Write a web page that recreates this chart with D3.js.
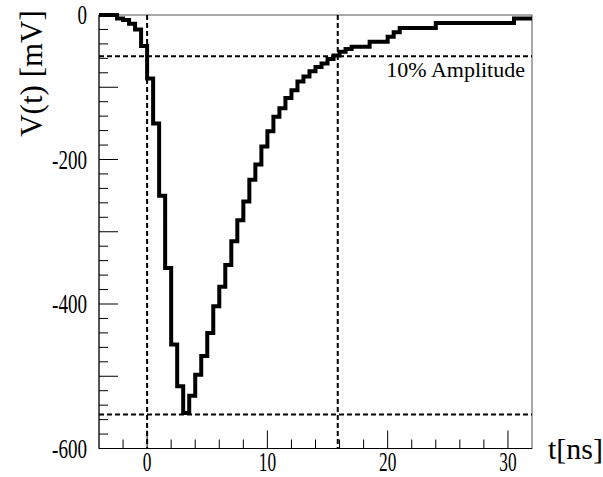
<!DOCTYPE html>
<html>
<head>
<meta charset="utf-8">
<script src="https://cdn.jsdelivr.net/npm/d3@7"></script>
<style>
  body { margin: 0; background: #fff; }
  svg text { font-family: "Liberation Serif", "Times New Roman", serif; fill: #000; }
</style>
</head>
<body>
<svg id="chart"></svg>
<script>
// bin width of the digitised pulse (ns), first bin starts at -4 ns
const binStart = -4;
const binWidth = 0.5;

// V(t) per 0.5 ns bin, in mV
const voltage = [
    0, 0, 0, -5, -7, -12, -20, -43,
    -88, -150, -250, -350, -456, -514, -551, -527,
    -498, -472, -440, -403, -376, -346, -313, -284,
    -258, -228, -207, -182, -161, -141, -129, -115,
    -104, -92, -85, -78, -72, -67, -61, -56,
    -51, -47, -44, -44, -44, -37, -37, -37,
    -30, -24, -18, -18, -18, -18, -18, -18,
    -11, -11, -11, -11, -11, -11, -11, -11,
    -11, -11, -11, -11, -11, -5, -5, -5
];

// marker lines
const minLevel = -553;      // pulse minimum
const tenPctLevel = -57;    // 10% of amplitude
const markerTimes = [0, 15.85];

const xLabels = [0, 10, 20, 30];
const yLabels = [0, -200, -400, -600];

class PulsePlot {
    constructor(_config) {
        this.config = {
            parentElement: _config.parentElement,
            containerWidth: _config.containerWidth || 603,
            containerHeight: _config.containerHeight || 477,
            frame: _config.frame || { left: 99, top: 15, right: 532, bottom: 448.5 }
        };
        this.initVis();
    }

    initVis() {
        let vis = this;
        const f = vis.config.frame;

        vis.svg = d3.select(vis.config.parentElement)
            .attr('width', vis.config.containerWidth)
            .attr('height', vis.config.containerHeight);

        vis.xScale = d3.scaleLinear().domain([-4, 32]).range([f.left, f.right]);
        vis.yScale = d3.scaleLinear().domain([-600, 0]).range([f.bottom, f.top]);

        vis.data = voltage.map((v, i) => ({ t: binStart + i * binWidth, v: v }));
        // close the last bin at its right edge
        vis.data.push({ t: binStart + voltage.length * binWidth, v: voltage[voltage.length - 1] });

        vis.renderVis();
    }

    renderVis() {
        let vis = this;
        const f = vis.config.frame;
        const x = vis.xScale, y = vis.yScale;

        // frame
        vis.svg.append('rect')
            .attr('x', f.left).attr('y', f.top)
            .attr('width', f.right - f.left).attr('height', f.bottom - f.top)
            .attr('fill', 'none').attr('stroke', '#555').attr('stroke-width', 1);

        // x ticks: minor every 2 ns, major every 10 ns (drawn inwards)
        const xMinor = d3.range(-2, 32, 2).filter(d => d % 10 !== 0);
        const xMajor = [0, 10, 20, 30];
        vis.svg.append('g').selectAll('line.xmin').data(xMinor).join('line')
            .attr('x1', d => x(d)).attr('x2', d => x(d))
            .attr('y1', f.bottom).attr('y2', f.bottom - 9)
            .attr('stroke', '#000').attr('stroke-width', 1);
        vis.svg.append('g').selectAll('line.xmaj').data(xMajor).join('line')
            .attr('x1', d => x(d)).attr('x2', d => x(d))
            .attr('y1', f.bottom).attr('y2', f.bottom - 18)
            .attr('stroke', '#000').attr('stroke-width', 1);

        // y ticks: minor every 20 mV, major every 100 mV
        const yMinor = d3.range(-580, 0, 20).filter(d => d % 100 !== 0);
        const yMajor = d3.range(-500, 0, 100);
        vis.svg.append('g').selectAll('line').data(yMinor).join('line')
            .attr('x1', f.left).attr('x2', f.left + 9)
            .attr('y1', d => y(d)).attr('y2', d => y(d))
            .attr('stroke', '#000').attr('stroke-width', 1);
        vis.svg.append('g').selectAll('line').data(yMajor).join('line')
            .attr('x1', f.left).attr('x2', f.left + 19)
            .attr('y1', d => y(d)).attr('y2', d => y(d))
            .attr('stroke', '#000').attr('stroke-width', 1);

        // axis lines in black
        vis.svg.append('line')
            .attr('x1', f.left).attr('x2', f.left).attr('y1', f.top).attr('y2', f.bottom)
            .attr('stroke', '#000');
        vis.svg.append('line')
            .attr('x1', f.left).attr('x2', f.right).attr('y1', f.bottom).attr('y2', f.bottom)
            .attr('stroke', '#000');

        // tick labels (narrow, ROOT style)
        vis.svg.append('g').selectAll('text').data(xLabels).join('text')
            .attr('transform', d => `translate(${x(d)},471) scale(0.62,1)`)
            .attr('text-anchor', 'middle')
            .attr('font-size', '28px')
            .text(d => d);

        vis.svg.append('g').selectAll('text').data(yLabels).join('text')
            .attr('transform', d => `translate(87,${y(d) + 9}) scale(0.68,1)`)
            .attr('text-anchor', 'end')
            .attr('font-size', '28px')
            .text(d => d);

        // axis titles
        vis.svg.append('text')
            .attr('transform', 'translate(42,73.5) rotate(-90)')
            .attr('text-anchor', 'middle')
            .attr('font-size', '31px')
            .text('V(t) [mV]');

        vis.svg.append('text')
            .attr('x', 548).attr('y', 459)
            .attr('font-size', '30px')
            .text('t[ns]');

        // dashed marker lines
        const dash = '5,3';
        vis.svg.append('g').selectAll('line').data([minLevel, tenPctLevel]).join('line')
            .attr('x1', f.left).attr('x2', f.right)
            .attr('y1', d => y(d)).attr('y2', d => y(d))
            .attr('stroke', '#000').attr('stroke-width', 2)
            .attr('stroke-dasharray', dash);
        vis.svg.append('g').selectAll('line').data(markerTimes).join('line')
            .attr('x1', d => x(d)).attr('x2', d => x(d))
            .attr('y1', f.top).attr('y2', f.bottom)
            .attr('stroke', '#000').attr('stroke-width', 2)
            .attr('stroke-dasharray', dash);

        vis.svg.append('text')
            .attr('x', 525).attr('y', 77)
            .attr('text-anchor', 'end')
            .attr('font-size', '22px')
            .text('10% Amplitude');

        // the pulse as a step histogram
        const line = d3.line()
            .x(d => x(d.t))
            .y(d => y(d.v))
            .curve(d3.curveStepAfter);

        vis.svg.append('path')
            .datum(vis.data)
            .attr('d', line)
            .attr('fill', 'none')
            .attr('stroke', '#000')
            .attr('stroke-width', 4)
            .attr('stroke-linejoin', 'miter');
    }
}

new PulsePlot({ parentElement: '#chart' });
</script>
</body>
</html>
